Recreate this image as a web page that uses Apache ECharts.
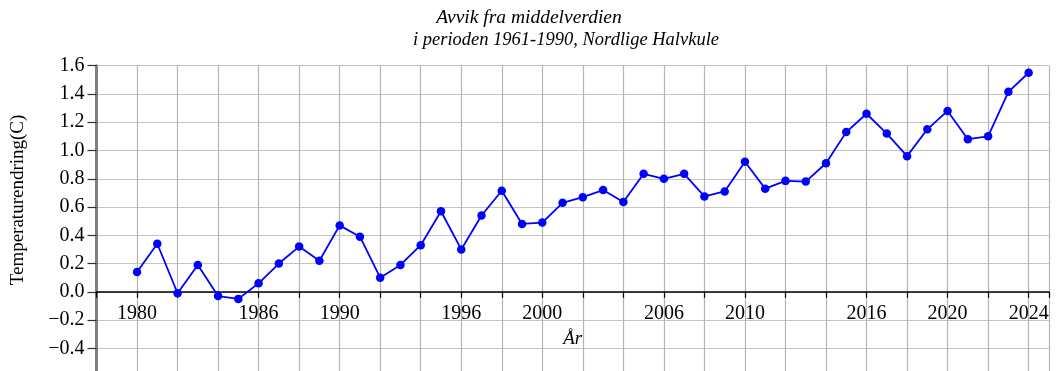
<!DOCTYPE html>
<html>
<head>
<meta charset="utf-8">
<script src="https://cdn.jsdelivr.net/npm/echarts@6/dist/echarts.min.js"></script>
<style>
html,body{margin:0;padding:0;background:#fff;}
#chart{width:1056px;height:371px;}
</style>
</head>
<body>
<div id="chart"></div>
<script>
const years = [1980,1981,1982,1983,1984,1985,1986,1987,1988,1989,1990,1991,1992,1993,1994,1995,1996,1997,1998,1999,2000,2001,2002,2003,2004,2005,2006,2007,2008,2009,2010,2011,2012,2013,2014,2015,2016,2017,2018,2019,2020,2021,2022,2023,2024];
const anomalies = [0.14,0.34,-0.01,0.19,-0.03,-0.05,0.06,0.20,0.32,0.22,0.47,0.39,0.10,0.19,0.33,0.57,0.30,0.54,0.715,0.48,0.49,0.63,0.67,0.72,0.635,0.835,0.80,0.835,0.675,0.71,0.92,0.73,0.785,0.78,0.91,1.13,1.26,1.12,0.96,1.15,1.28,1.08,1.10,1.415,1.55];
const xTickLabels = [1980,1986,1990,1996,2000,2006,2010,2016,2020,2024];
const titleLine1 = 'Avvik fra middelverdien';
const titleLine2 = 'i perioden 1961-1990, Nordlige Halvkule';
const yName = 'Temperaturendring(C)';
const xName = 'År';

const serif = "'Liberation Serif','Times New Roman',serif";
const chart = echarts.init(document.getElementById('chart'), null, {renderer:'canvas'});
chart.setOption({
  animation:false,
  backgroundColor:'#fff',
  title:[
    {text:titleLine1, left:529, top:8, textAlign:'center', padding:0,
     textStyle:{fontFamily:serif, fontStyle:'italic', fontWeight:'normal', fontSize:19.5, color:'#000'}},
    {text:titleLine2, left:566, top:31, textAlign:'center', padding:0,
     textStyle:{fontFamily:serif, fontStyle:'italic', fontWeight:'normal', fontSize:18.5, color:'#000'}}
  ],
  graphic:[
    {type:'text', x:18, y:200, rotation:Math.PI/2,
     style:{text:yName, font:"19px 'Liberation Serif','Times New Roman',serif", fill:'#000', align:'center', verticalAlign:'middle'}}
  ],
  grid:{left:96.5, top:65.7, width:952.4, height:310.9, containLabel:false, outerBoundsMode:'none'},
  xAxis:{
    type:'value', min:1978, max:2025, interval:2,
    position:'bottom', offset:-84.8,
    name:xName, nameLocation:'middle', nameGap:38,
    nameTextStyle:{fontFamily:serif, fontStyle:'italic', fontSize:19, color:'#000'},
    axisLine:{onZero:false, lineStyle:{color:'#000', width:1.5}},
    axisTick:{show:true, length:6, lineStyle:{color:'#000', width:1.2}},
    axisLabel:{margin:12, fontFamily:serif, fontSize:20, color:'#000',
      formatter:function(v){return xTickLabels.indexOf(v)>=0 ? String(v) : '';}},
    splitLine:{show:true, lineStyle:{color:'#b4b4b4', width:1.2}}
  },
  yAxis:{
    type:'value', min:-0.6, max:1.6, interval:0.2,
    axisLine:{show:true, onZero:false, lineStyle:{color:'#808080', width:3}},
    axisTick:{show:true, length:9, lineStyle:{color:'#333', width:1.2}},
    axisLabel:{margin:12, fontFamily:serif, fontSize:20, color:'#000',
      formatter:function(v){
        const r = Math.round(v*10)/10;
        if (r < -0.55) return '';
        return (r<0 ? '\u2212' : '') + Math.abs(r).toFixed(1);
      }},
    splitLine:{show:true, lineStyle:{color:'#c4c4c4', width:1.2}}
  },
  series:[{
    type:'line',
    data:years.map((y,i)=>[y, anomalies[i]]),
    symbol:'circle', symbolSize:8.5,
    lineStyle:{color:'#0000ff', width:1.8},
    itemStyle:{color:'#0000ff'},
    clip:false
  }]
});
</script>
</body>
</html>
